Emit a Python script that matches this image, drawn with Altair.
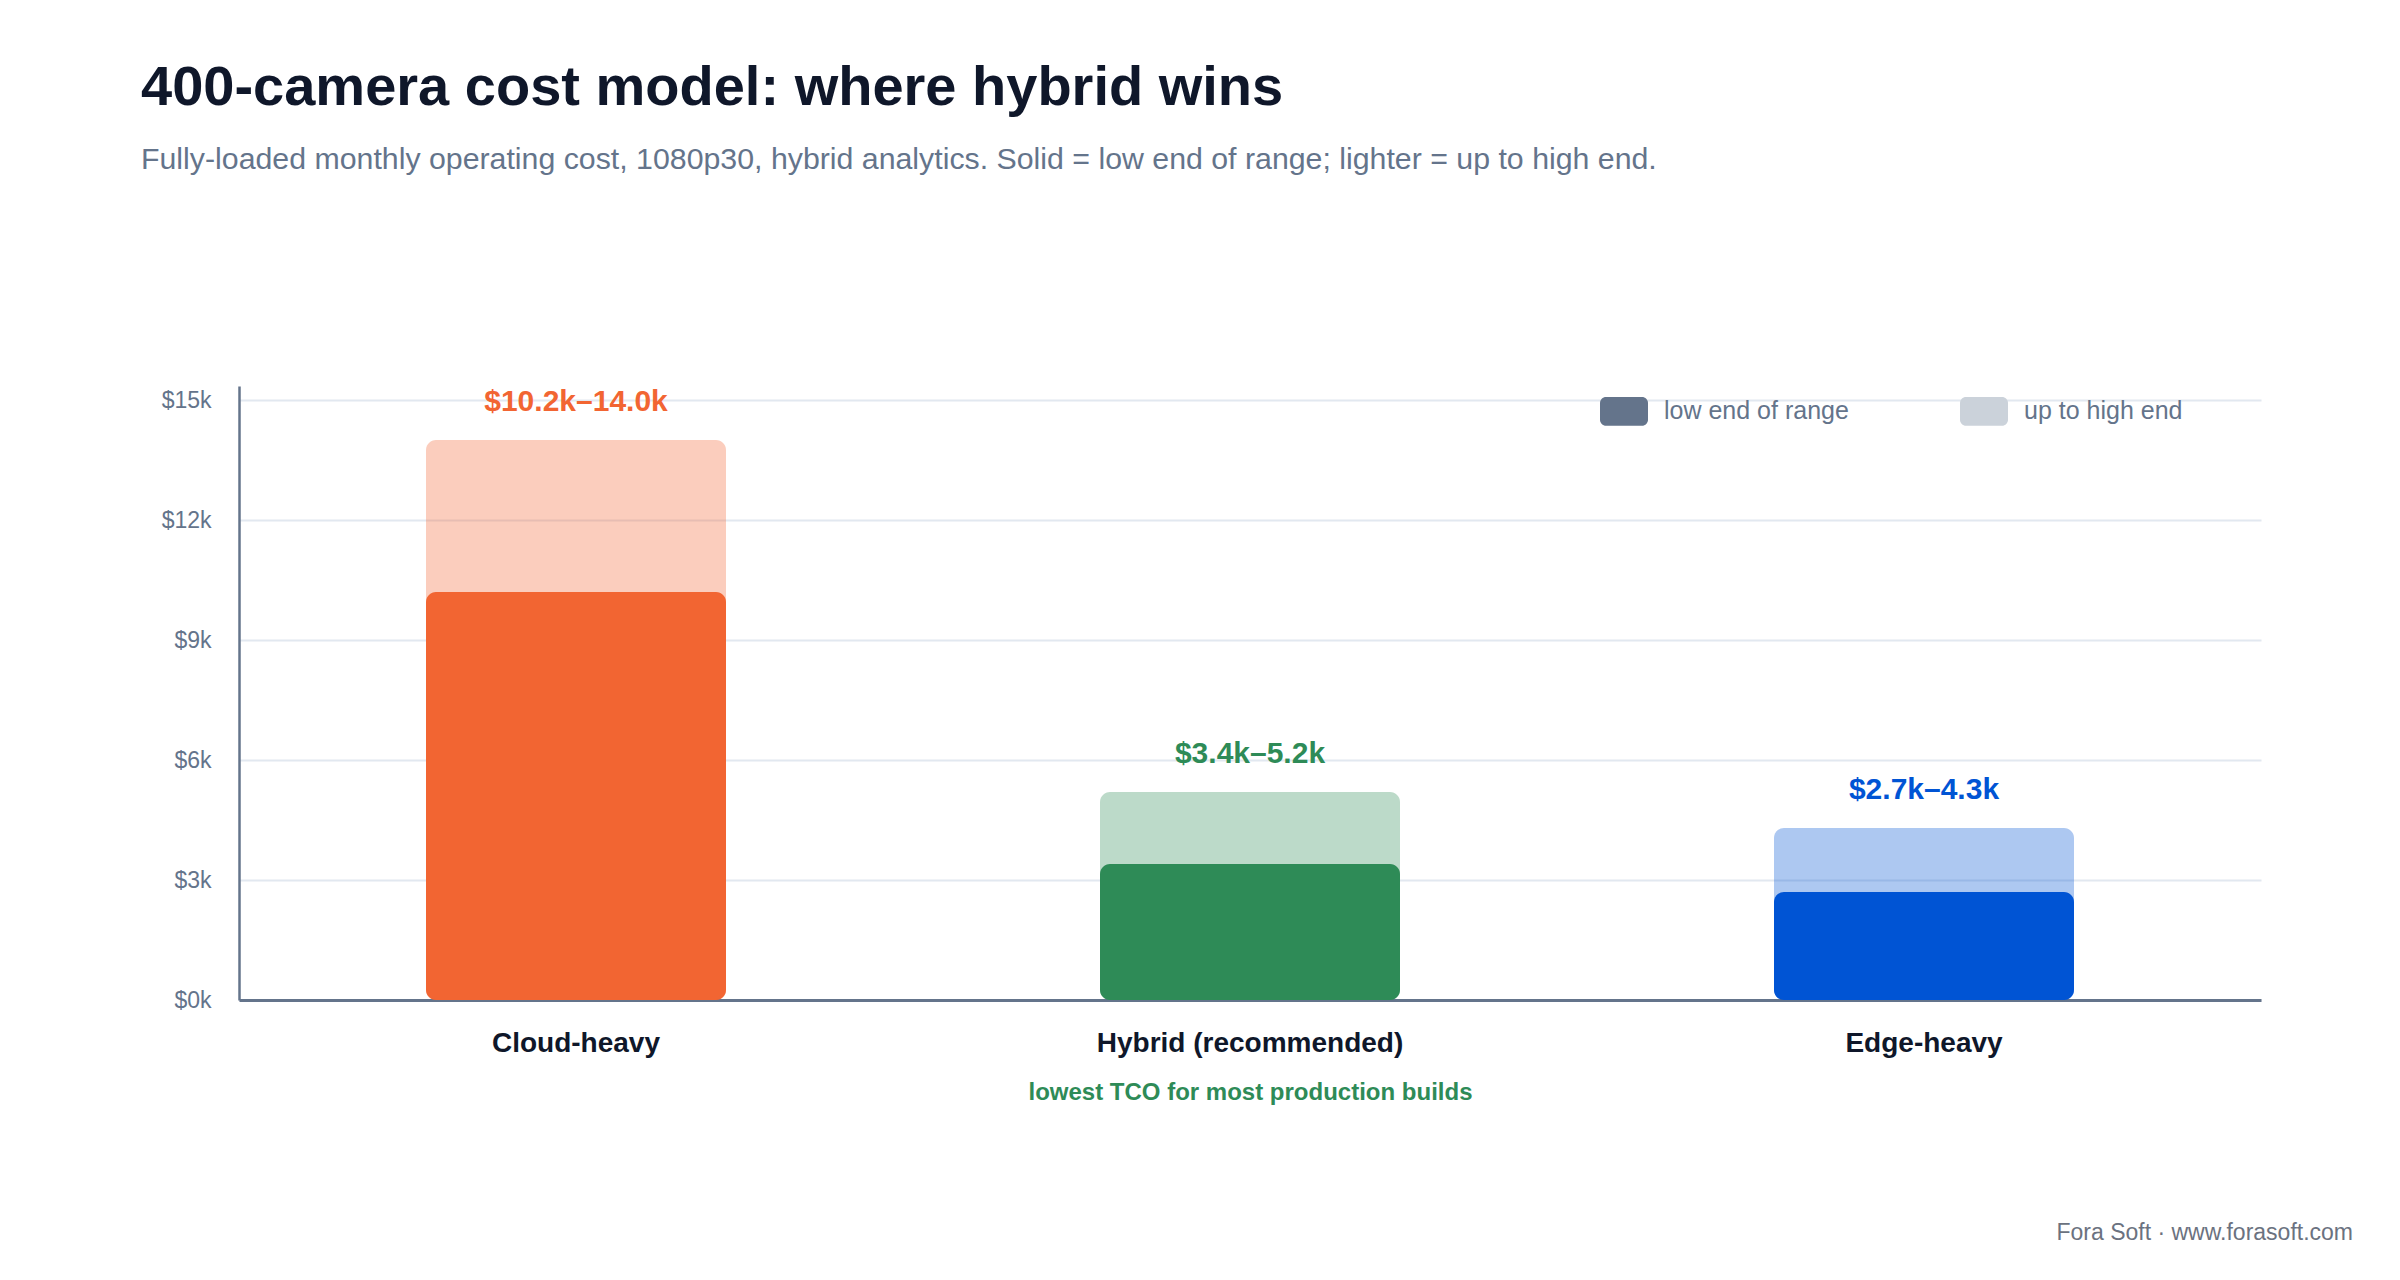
import altair as alt
import pandas as pd

# ---- data ----
categories = ["Cloud-heavy", "Hybrid (recommended)", "Edge-heavy"]
low_values = [10200, 3400, 2700]
high_values = [14000, 5200, 4300]
bar_colors = ["#F26532", "#2E8B57", "#0054D4"]
legend_keys = ["low end of range", "up to high end"]
legend_colors = ["#64748B", "#CBD2DA"]
y_ticks = [0, 3000, 6000, 9000, 12000, 15000]

FONT = "Liberation Sans"

df = pd.DataFrame({
    "category": categories,
    "low": low_values,
    "high": high_values,
    "color": bar_colors,
})
df["label"] = [f"${l/1000:.1f}k\u2013{h/1000:.1f}k" for l, h in zip(low_values, high_values)]

legend_df = pd.DataFrame({
    "key": legend_keys,
    "category": [categories[0]] * len(legend_keys),
    "v": [1000] * len(legend_keys),
})

footer_df = pd.DataFrame({"footer": ["Fora Soft \u00b7 www.forasoft.com"]})

x_enc = alt.X(
    "category:N",
    sort=categories,
    scale=alt.Scale(paddingInner=0, paddingOuter=0),
    axis=alt.Axis(
        title="lowest TCO for most production builds",
        titleFont=FONT, titleFontSize=24, titleFontWeight="bold", titleColor="#2E8B57",
        titlePadding=23,
        labelFont=FONT, labelFontSize=28, labelFontWeight="bold", labelColor="#0F172A",
        labelAngle=0, labelAlign="center", labelLimit=1000, labelPadding=43, ticks=False,
        domainColor="#64748B", domainWidth=3, grid=False,
    ),
)

y_scale = alt.Scale(domain=[0, 15350], nice=False, zero=True)

legend_layer = alt.Chart(legend_df).mark_square(size=20, filled=True, opacity=1).encode(
    x=alt.X("category:N", sort=categories),
    y=alt.Y("v:Q", scale=y_scale),
    color=alt.Color(
        "key:N",
        scale=alt.Scale(domain=legend_keys, range=legend_colors),
        legend=alt.Legend(
            title=None, orient="none", legendX=1361, legendY=1, direction="horizontal",
            symbolType="M-0.75,-0.6 H0.75 A0.25,0.25 0 0 1 1,-0.35 V0.35 A0.25,0.25 0 0 1 0.75,0.6 H-0.75 A0.25,0.25 0 0 1 -1,0.35 V-0.35 A0.25,0.25 0 0 1 -0.75,-0.6 Z",
            symbolSize=2304, symbolStrokeWidth=0, symbolOpacity=1,
            labelFont=FONT, labelFontSize=25, labelColor="#64748B", labelOffset=16,
            labelLimit=600, columnPadding=111, padding=0,
        ),
    ),
)

light = alt.Chart(df).mark_bar(cornerRadius=10, width=300, fillOpacity=0.32).encode(
    x=x_enc,
    y=alt.Y(
        "high:Q", scale=y_scale,
        axis=alt.Axis(
            title=None, values=y_ticks,
            labelExpr="'$' + (datum.value / 1000) + 'k'",
            labelFont=FONT, labelFontSize=23, labelColor="#64748B", labelPadding=28,
            ticks=False, domainColor="#64748B", domainWidth=2.5,
            grid=True, gridColor="#E2E8F0", gridWidth=2,
        ),
    ),
    fill=alt.Fill("color:N", scale=None),
)

solid = alt.Chart(df).mark_bar(cornerRadius=10, width=300).encode(
    x=alt.X("category:N", sort=categories),
    y=alt.Y("low:Q", scale=y_scale),
    fill=alt.Fill("color:N", scale=None),
)

labels = alt.Chart(df).mark_text(
    font=FONT, fontSize=30, fontWeight="bold", baseline="middle", dy=-38
).encode(
    x=alt.X("category:N", sort=categories),
    y=alt.Y("high:Q", scale=y_scale),
    text="label:N",
    fill=alt.Fill("color:N", scale=None),
)

footer = alt.Chart(footer_df).mark_text(
    font=FONT, fontSize=23, color="#6B7280", align="right", baseline="alphabetic"
).encode(
    x=alt.value(2114),
    y=alt.value(854),
    text="footer:N",
)

chart = alt.layer(legend_layer, light, solid, labels, footer).properties(
    width=2022,
    height=614,
    autosize=alt.AutoSizeParams(type="none"),
    padding={"left": 231, "top": 378, "right": 123, "bottom": 272},
    title=alt.TitleParams(
        text="400-camera cost model: where hybrid wins",
        subtitle="Fully-loaded monthly operating cost, 1080p30, hybrid analytics. Solid = low end of range; lighter = up to high end.",
        anchor="start", frame="group", dx=-98, offset=210,
        font=FONT, fontSize=56, fontWeight="bold", color="#0F172A",
        subtitleFont=FONT, subtitleFontSize=30.3, subtitleColor="#64748B", subtitlePadding=28,
    ),
).configure(background="white").configure_view(stroke=None)

chart.save("out.html", embed_options={"renderer": "svg", "actions": False})
